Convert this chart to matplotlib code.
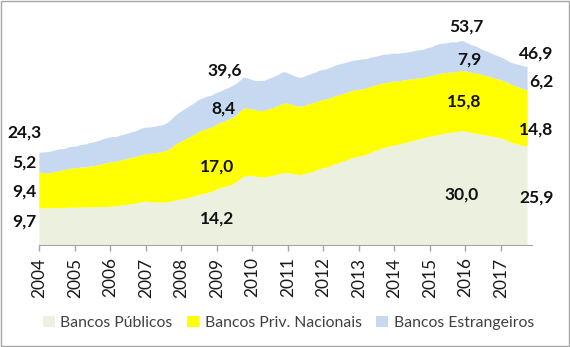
import numpy as np
import matplotlib.pyplot as plt
from matplotlib.patches import Rectangle

plt.rcParams['font.family'] = ['Lato', 'DejaVu Sans']

# participação no crédito (% do PIB), mensal jan/2004 - out/2017
publicos = [
    9.7, 9.6, 9.6, 9.6, 9.7, 9.7, 9.7, 9.7, 9.6, 9.7, 9.8, 9.8,
    9.8, 9.8, 9.9, 9.9, 9.8, 9.9, 9.9, 9.9, 9.9, 10.0, 10.0, 10.0,
    10.1, 10.1, 10.2, 10.3, 10.4, 10.5, 10.6, 10.7, 10.8, 10.9, 11.1, 11.3,
    11.4, 11.3, 11.3, 11.2, 11.2, 11.1, 11.2, 11.2, 11.3, 11.5, 11.7, 11.9,
    12.0, 12.1, 12.3, 12.5, 12.7, 12.9, 13.2, 13.4, 13.5, 13.7, 13.9, 14.2,
    14.6, 14.9, 15.1, 15.3, 15.5, 15.8, 16.2, 16.7, 17.3, 17.9, 18.1, 18.2,
    18.2, 18.0, 17.9, 17.8, 17.8, 17.9, 18.1, 18.2, 18.4, 18.6, 18.8, 18.9,
    18.9, 18.8, 18.6, 18.5, 18.4, 18.5, 18.7, 18.9, 19.1, 19.4, 19.7, 20.0,
    20.2, 20.3, 20.6, 20.9, 21.2, 21.5, 21.8, 22.0, 22.3, 22.6, 22.9, 23.1,
    23.2, 23.4, 23.6, 23.9, 24.2, 24.5, 24.8, 25.1, 25.4, 25.6, 25.8, 26.0,
    26.2, 26.3, 26.5, 26.7, 26.9, 27.1, 27.3, 27.5, 27.7, 27.9, 28.1, 28.3,
    28.5, 28.6, 28.8, 28.9, 29.1, 29.3, 29.4, 29.5, 29.6, 29.7, 29.8, 30.0,
    29.9, 29.7, 29.5, 29.4, 29.2, 29.1, 28.9, 28.8, 28.7, 28.5, 28.4, 28.2,
    28.1, 27.8, 27.5, 27.1, 26.8, 26.6, 26.4, 26.2, 26.0, 25.9,
]
privados = [
    9.4, 9.4, 9.3, 9.2, 9.3, 9.5, 9.6, 9.8, 10.0, 10.1, 10.2, 10.3,
    10.4, 10.4, 10.5, 10.5, 10.6, 10.7, 10.8, 10.9, 11.1, 11.2, 11.4, 11.5,
    11.6, 11.7, 11.7, 11.8, 11.9, 12.0, 12.1, 12.2, 12.2, 12.3, 12.4, 12.4,
    12.5, 12.6, 12.8, 12.9, 13.1, 13.3, 13.4, 13.6, 13.9, 14.2, 14.6, 14.9,
    15.2, 15.5, 15.7, 15.9, 16.1, 16.3, 16.6, 16.7, 16.8, 16.9, 16.9, 17.0,
    17.0, 17.1, 17.2, 17.3, 17.4, 17.5, 17.5, 17.6, 17.8, 18.0, 17.8, 17.6,
    17.5, 17.5, 17.4, 17.5, 17.5, 17.6, 17.7, 17.8, 17.9, 18.0, 18.2, 18.3,
    18.3, 18.2, 18.1, 18.0, 18.0, 18.0, 18.0, 18.1, 18.1, 18.0, 18.0, 18.0,
    18.0, 18.0, 17.9, 17.9, 17.9, 17.8, 17.8, 17.8, 17.7, 17.7, 17.7, 17.6,
    17.6, 17.6, 17.5, 17.4, 17.4, 17.3, 17.2, 17.2, 17.1, 17.0, 16.9, 16.9,
    16.8, 16.7, 16.6, 16.6, 16.5, 16.4, 16.3, 16.2, 16.1, 16.0, 15.9, 15.9,
    15.9, 15.9, 16.0, 16.0, 16.0, 15.9, 15.9, 15.9, 15.8, 15.8, 15.8, 15.8,
    15.8, 15.8, 15.8, 15.9, 15.9, 15.8, 15.8, 15.7, 15.6, 15.5, 15.4, 15.4,
    15.3, 15.3, 15.3, 15.3, 15.3, 15.2, 15.1, 15.0, 14.9, 14.8,
]
estrangeiros = [
    5.2, 5.3, 5.5, 5.6, 5.6, 5.6, 5.7, 5.7, 5.6, 5.6, 5.7, 5.7,
    5.7, 5.8, 5.9, 6.0, 6.1, 6.2, 6.2, 6.3, 6.4, 6.4, 6.5, 6.6,
    6.6, 6.6, 6.5, 6.6, 6.6, 6.6, 6.6, 6.7, 6.8, 6.8, 6.9, 7.0,
    7.0, 7.0, 6.9, 7.0, 7.0, 7.0, 7.0, 7.1, 7.3, 7.5, 7.7, 7.8,
    7.9, 8.0, 8.1, 8.2, 8.3, 8.4, 8.4, 8.4, 8.5, 8.5, 8.4, 8.4,
    8.4, 8.3, 8.3, 8.4, 8.4, 8.4, 8.4, 8.3, 8.2, 8.1, 8.0, 7.9,
    7.7, 7.7, 7.8, 7.9, 7.9, 8.0, 8.0, 8.1, 8.2, 8.2, 8.3, 8.3,
    8.0, 7.9, 7.8, 7.7, 7.6, 7.6, 7.7, 7.7, 7.8, 7.8, 7.9, 7.9,
    7.9, 7.9, 8.0, 8.0, 8.1, 8.1, 8.0, 8.0, 8.0, 7.9, 7.9, 7.9,
    7.9, 7.8, 7.8, 7.7, 7.7, 7.6, 7.6, 7.5, 7.5, 7.5, 7.4, 7.4,
    7.4, 7.3, 7.3, 7.2, 7.2, 7.2, 7.3, 7.3, 7.4, 7.4, 7.4, 7.5,
    7.5, 7.6, 7.8, 7.9, 7.9, 7.8, 7.8, 7.9, 7.9, 7.8, 7.9, 7.9,
    7.7, 7.5, 7.3, 7.1, 7.0, 6.8, 6.6, 6.5, 6.4, 6.3, 6.2, 6.1,
    6.0, 5.9, 5.8, 5.7, 5.7, 5.8, 5.9, 6.0, 6.1, 6.2,
]
anos = list(range(2004, 2018))
nomes = ['Bancos Públicos', 'Bancos Priv. Nacionais', 'Bancos Estrangeiros']
cores = ['#EBF1DE', '#FFFF00', '#C6D9F1']

t = 2004 + np.arange(len(publicos)) / 12
series = [publicos, privados, estrangeiros]
total = np.sum(series, axis=0)

fig = plt.figure(figsize=(5.7, 3.47), dpi=100)
ax = fig.add_axes([0.069, 0.294, 0.864, 0.657])
ax.stackplot(t, series, colors=cores, labels=nomes, linewidth=0)

ax.set_xlim(2004, 2017.87)
ax.set_ylim(0, 60)
ax.set_xticks(anos)
ax.set_xticklabels([str(a) for a in anos], rotation=90, fontsize=12.5, color='#1a1a1a')
ax.tick_params(axis='x', direction='out', length=4.5, width=1, color='#A6A6A6', pad=4.5)
ax.set_yticks([])
for s in ['left', 'right', 'top']:
    ax.spines[s].set_visible(False)
ax.spines['bottom'].set_color('#A6A6A6')

# rótulos: início, dez/2008, dez/2015 e último mês
def fmt(v):
    return f'{v:.1f}'.replace('.', ',')

rotulos = [
    (0, [2003.57, 2003.57, 2003.57, 2003.57], [6.1, 14.0, 21.6, 29.7]),
    (59, [2009.01, 2009.01, 2009.19, 2009.23], [7.0, 20.6, 36.0, 45.9]),
    (143, [2015.90, 2015.97, 2016.11, 2016.04], [13.2, 37.7, 48.7, 57.6]),
    (165, [2018.00, 2018.00, 2018.14, 2018.00], [12.6, 30.4, 43.0, 50.4]),
]
for i, xs, ys in rotulos:
    vals = [publicos[i], privados[i], estrangeiros[i], total[i]]
    for v, x, y in zip(vals, xs, ys):
        ax.text(x, y, fmt(v), ha='center', va='center', fontsize=12.5,
                fontweight='bold', color='#111111', clip_on=False)

fig.legend(loc='center', bbox_to_anchor=(0.506, 0.069), ncol=3, frameon=False,
           fontsize=11.3, handlelength=0.75, handleheight=0.75, handletextpad=0.35,
           columnspacing=0.95, labelcolor='#404040')

fig.patches.append(Rectangle((0.001, 0.002), 0.997, 0.995, transform=fig.transFigure,
                             fill=False, edgecolor='#A6A6A6', linewidth=1))

fig.savefig('out.png', dpi=100)
